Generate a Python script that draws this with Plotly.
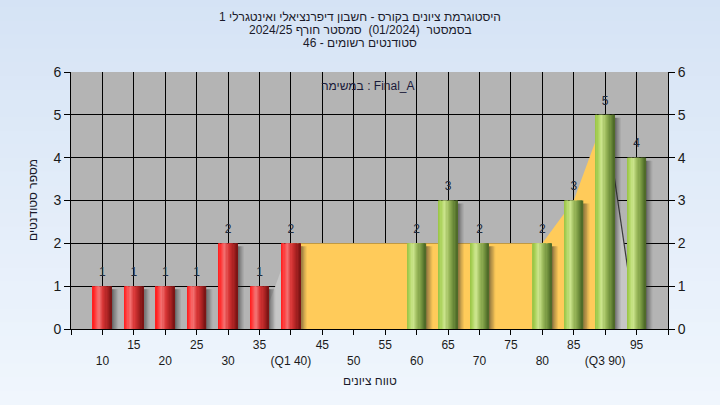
import plotly.graph_objects as go

# ---------------- data ----------------
categories = [10, 15, 20, 25, 30, 35, 40, 45, 50, 55, 60, 65, 70, 75, 80, 85, 90, 95]
counts     = [1, 1, 1, 1, 2, 1, 2, 0, 0, 0, 2, 3, 2, 0, 2, 3, 5, 4]
area_vals  = [0, 0, 0, 0, 0, 0, 2, 2, 2, 2, 2, 2, 2, 2, 2, 3, 5, 0]
q1, q3 = 40, 90
tick_labels = {10: "10", 15: "15", 20: "20", 25: "25", 30: "30", 35: "35",
               40: "(Q1 40)", 45: "45", 50: "50", 55: "55", 60: "60", 65: "65",
               70: "70", 75: "75", 80: "80", 85: "85", 90: "(Q3 90)", 95: "95"}
title_lines = ["היסטוגרמת ציונים בקורס - חשבון דיפרנציאלי ואינטגרלי 1",
               "בסמסטר  (01/2024)  סמסטר חורף 2024/25",
               "סטודנטים רשומים - 46"]
task_label = "במשימה : Final_A"
x_title = "טווח ציונים"
y_title = "מספר סטודנטים"

# ---------------- helpers ----------------
def hex2rgb(h):
    h = h.lstrip("#")
    return tuple(int(h[i:i + 2], 16) for i in (0, 2, 4))

def grad(stops, t):
    for (p0, c0), (p1, c1) in zip(stops, stops[1:]):
        if p0 <= t <= p1:
            f = (t - p0) / (p1 - p0) if p1 > p0 else 0
            a, b = hex2rgb(c0), hex2rgb(c1)
            return "rgb(%d,%d,%d)" % tuple(round(a[i] + (b[i] - a[i]) * f) for i in range(3))
    return stops[-1][1]

red_stops = [(0.0, "#ff1a1a"), (0.12, "#ff3535"), (0.33, "#f47272"),
             (0.55, "#d83535"), (0.8, "#aa2222"), (1.0, "#761313")]
green_stops = [(0.0, "#98c244"), (0.12, "#a8d056"), (0.33, "#cde68e"),
               (0.55, "#9cba5c"), (0.8, "#6f8f3c"), (1.0, "#4a6526")]

FONT = "Liberation Sans, Arial, sans-serif"
BAR_W = 3.0
N_STRIPS = 16

fig = go.Figure()

# ---------------- area (yellow between Q1 and Q3, light gray outside) as shapes under bars ----------------
def area_path(xv, yv):
    pts = ["M %s,0" % xv[0]] + ["L %s,%s" % (a, b) for a, b in zip(xv, yv)] + ["L %s,0 Z" % xv[-1]]
    return " ".join(pts)

def line_path(xv, yv):
    return "M " + " L ".join("%s,%s" % (a, b) for a, b in zip(xv, yv))

ax_in = [c for c in categories if q1 <= c <= q3]
ay_in = [area_vals[categories.index(c)] for c in ax_in]
i1 = categories.index(q1)
i3 = categories.index(q3)
left_x, left_y = categories[i1 - 1:i1 + 1], area_vals[i1 - 1:i1 + 1]
right_x, right_y = categories[i3:i3 + 2], area_vals[i3:i3 + 2]

area_shapes = [
    dict(type="path", xref="x", yref="y", path=area_path(ax_in, ay_in),
         fillcolor="#ffcb5a", line=dict(width=0), layer="between"),
    dict(type="path", xref="x", yref="y", path=area_path(left_x, left_y),
         fillcolor="#c6c6c6", line=dict(width=0), layer="between"),
    dict(type="path", xref="x", yref="y", path=area_path(right_x, right_y),
         fillcolor="#c6c6c6", line=dict(width=0), layer="between"),
    dict(type="path", xref="x", yref="y", path=line_path(right_x, right_y),
         line=dict(width=1.2, color="#3a3a3a"), layer="between"),
]

# ---------------- bars ----------------
xs = [c for c, v in zip(categories, counts) if v > 0]
vs = [v for v in counts if v > 0]
is_red = [c <= q1 for c in xs]

# shadows
shadow_alpha = [0.55, 0.42, 0.3, 0.18, 0.08]
sw = 1.0 / len(shadow_alpha)
for k, a in enumerate(shadow_alpha):
    fig.add_trace(go.Bar(x=xs, y=[v - 0.07 for v in vs], width=sw * 1.02,
                         offset=BAR_W / 2 + k * sw,
                         marker=dict(color="rgba(40,40,40,%.2f)" % a, line=dict(width=0)),
                         hoverinfo="skip", showlegend=False))

# cylinder-like gradient strips
for k in range(N_STRIPS):
    t = (k + 0.5) / N_STRIPS
    cols = [grad(red_stops, t) if r else grad(green_stops, t) for r in is_red]
    fig.add_trace(go.Bar(x=xs, y=vs, width=BAR_W / N_STRIPS * 1.08,
                         offset=-BAR_W / 2 + k * BAR_W / N_STRIPS,
                         marker=dict(color=cols, line=dict(width=0)),
                         hoverinfo="skip", showlegend=False))

# value labels
fig.add_trace(go.Scatter(x=xs, y=vs, mode="markers+text", text=[str(v) for v in vs],
                         textposition="top center",
                         marker=dict(size=10, opacity=0),
                         textfont=dict(family=FONT, size=12, color="#202a3c"),
                         hoverinfo="skip", showlegend=False))

# dummy trace for right axis
fig.add_trace(go.Scatter(x=[categories[0]], y=[0], yaxis="y2", mode="markers",
                         marker=dict(opacity=0), hoverinfo="skip", showlegend=False))

# ---------------- background gradient ----------------
shapes = []
N_BANDS = 30
top, bot = hex2rgb("#d5e3f5"), hex2rgb("#f0f6fd")
y_lo, y_hi = -0.3, 1.3
for k in range(N_BANDS):
    f = k / (N_BANDS - 1)
    col = "rgb(%d,%d,%d)" % tuple(round(top[i] + (bot[i] - top[i]) * f) for i in range(3))
    ya = y_hi - (y_hi - y_lo) * k / N_BANDS
    yb = y_hi - (y_hi - y_lo) * (k + 1) / N_BANDS
    shapes.append(dict(type="rect", xref="paper", yref="paper", x0=-0.2, x1=1.2,
                       y0=yb - 0.005, y1=ya + 0.005, fillcolor=col,
                       line=dict(width=0), layer="below"))
shapes.append(dict(type="rect", xref="paper", yref="paper", x0=0, x1=1, y0=0, y1=1,
                   fillcolor="#b4b4b4", line=dict(width=0), layer="below"))
shapes += area_shapes

# ---------------- annotations ----------------
PH = 257.0
PW = 597.0
ML, MT = 71, 72
def py(ypx):
    return 1 + (MT - ypx) / PH
def px(xpx):
    return (xpx - ML) / PW

annotations = []
for line, ypx in zip(title_lines, [17, 30, 43]):
    annotations.append(dict(text=line, xref="paper", yref="paper", x=px(360), y=py(ypx),
                            xanchor="center", yanchor="middle", showarrow=False,
                            font=dict(family=FONT, size=12, color="#1a1a2a")))
annotations.append(dict(text=task_label, xref="paper", yref="paper", x=px(368), y=py(86),
                        xanchor="center", yanchor="middle", showarrow=False,
                        font=dict(family=FONT, size=12, color="#1a1a3a")))
annotations.append(dict(text=x_title, xref="paper", yref="paper", x=px(370), y=py(381),
                        xanchor="center", yanchor="middle", showarrow=False,
                        font=dict(family=FONT, size=12, color="#1a1a2a")))
annotations.append(dict(text=y_title, xref="paper", yref="paper", x=px(33), y=py(200),
                        xanchor="center", yanchor="middle", showarrow=False, textangle=-90,
                        font=dict(family=FONT, size=12, color="#1a1a2a")))

# ---------------- axes ----------------
tickvals = [5] + categories + [100]
ticktext = [""]
for i, c in enumerate(categories):
    ticktext.append(tick_labels[c] if i % 2 == 1 else "<br>" + tick_labels[c])
ticktext.append("")

fig.update_layout(
    width=720, height=405,
    margin=dict(l=71, r=52, t=72, b=76),
    paper_bgcolor="#e4edf8",
    plot_bgcolor="rgba(0,0,0,0)",
    barmode="overlay",
    shapes=shapes,
    annotations=annotations,
    font=dict(family=FONT, size=12, color="#1a1a1a"),
    xaxis=dict(range=[5, 100], tickmode="array", tickvals=tickvals, ticktext=ticktext,
               showgrid=True, gridcolor="#000000", gridwidth=1,
               showline=True, linecolor="#000000", linewidth=1,
               ticks="outside", ticklen=5, tickcolor="#000000", tickangle=0,
               tickfont=dict(family=FONT, size=12, color="#1a1a1a"), zeroline=False),
    yaxis=dict(range=[0, 6], dtick=1, showgrid=True, gridcolor="#000000", gridwidth=1,
               showline=True, linecolor="#000000", linewidth=1,
               ticks="outside", ticklen=6, tickcolor="#000000",
               tickfont=dict(family=FONT, size=14, color="#1a1a1a"), zeroline=False),
    yaxis2=dict(range=[0, 6], dtick=1, overlaying="y", side="right", showgrid=False,
                showline=True, linecolor="#000000", linewidth=1,
                ticks="outside", ticklen=6, tickcolor="#000000",
                tickfont=dict(family=FONT, size=14, color="#1a1a1a"), zeroline=False),
)

fig.write_html("out.html", config={"displayModeBar": False},
               post_script="document.body.style.margin='0';")
